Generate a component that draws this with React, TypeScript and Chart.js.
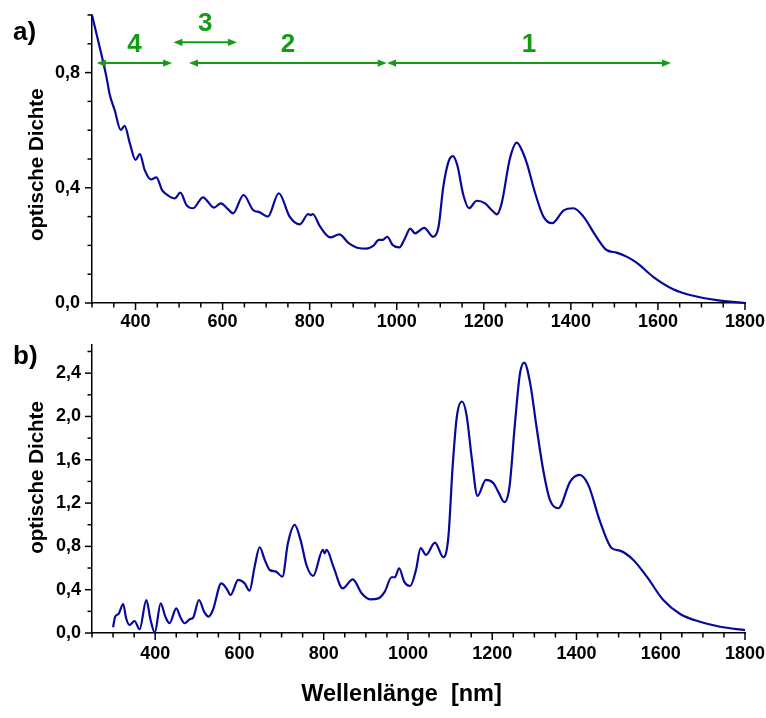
import React, { useEffect, useRef } from 'react';
import { Chart, registerables } from 'chart.js';

Chart.register(...registerables);

// ---------- data ----------
const topWavelengths = [
  300, 321, 333, 341, 352, 366, 375, 387, 400, 410, 421, 435, 448, 461, 475, 490, 503, 517, 532, 555,
  580, 596, 611, 624, 648, 670, 685, 704, 729, 754, 777, 797, 802, 807, 824, 847, 868, 889, 912, 931,
  946, 959, 968, 978, 991, 1006, 1019, 1031, 1042, 1063, 1084, 1096, 1107, 1119, 1129, 1139, 1153, 1166,
  1184, 1203, 1218, 1230, 1241, 1260, 1276, 1289, 1299, 1318, 1337, 1357, 1383, 1406, 1429, 1456, 1482,
  1505, 1528, 1551, 1589, 1635, 1681, 1735, 1800,
];
const topDensity = [
  1.0, 0.867, 0.786, 0.722, 0.67, 0.601, 0.615, 0.554, 0.497, 0.517, 0.462, 0.429, 0.436, 0.392, 0.373,
  0.363, 0.383, 0.34, 0.329, 0.367, 0.331, 0.346, 0.328, 0.311, 0.375, 0.323, 0.315, 0.3, 0.381, 0.3,
  0.273, 0.309, 0.305, 0.309, 0.265, 0.228, 0.238, 0.209, 0.191, 0.189, 0.198, 0.219, 0.219, 0.23, 0.201,
  0.193, 0.225, 0.258, 0.242, 0.261, 0.23, 0.265, 0.404, 0.491, 0.51, 0.479, 0.375, 0.329, 0.355, 0.346,
  0.323, 0.308, 0.346, 0.502, 0.557, 0.525, 0.485, 0.381, 0.3, 0.277, 0.321, 0.329, 0.3, 0.236, 0.184,
  0.175, 0.161, 0.14, 0.091, 0.048, 0.025, 0.01, 0.0,
];

const bottomWavelengths = [
  300, 305, 313, 324, 331, 339, 351, 363, 379, 389, 399, 413, 424, 434, 450, 461, 470, 482, 490, 504,
  516, 527, 537, 557, 569, 579, 597, 612, 624, 636, 648, 660, 672, 687, 702, 715, 731, 745, 759, 775,
  798, 802, 807, 823, 845, 869, 890, 910, 930, 945, 961, 969, 979, 991, 1005, 1019, 1030, 1043, 1064,
  1084, 1096, 1106, 1116, 1128, 1139, 1151, 1165, 1185, 1203, 1214, 1229, 1241, 1254, 1266, 1276, 1290,
  1305, 1321, 1337, 1357, 1385, 1407, 1428, 1456, 1484, 1503, 1535, 1567, 1606, 1646, 1693, 1741, 1800,
];
const bottomDensity = [
  0.053, 0.151, 0.176, 0.268, 0.136, 0.074, 0.111, 0.034, 0.305, 0.12, 0.003, 0.274, 0.151, 0.09, 0.228,
  0.136, 0.09, 0.127, 0.141, 0.305, 0.197, 0.151, 0.213, 0.459, 0.413, 0.351, 0.49, 0.459, 0.391, 0.613,
  0.792, 0.675, 0.582, 0.567, 0.52, 0.829, 0.998, 0.86, 0.628, 0.527, 0.767, 0.735, 0.767, 0.613, 0.413,
  0.496, 0.367, 0.311, 0.32, 0.382, 0.515, 0.515, 0.598, 0.474, 0.434, 0.582, 0.783, 0.721, 0.835, 0.7,
  0.89, 1.537, 1.999, 2.138, 2.015, 1.629, 1.266, 1.414, 1.383, 1.306, 1.208, 1.352, 1.938, 2.4, 2.498,
  2.308, 1.907, 1.506, 1.229, 1.152, 1.398, 1.46, 1.368, 1.029, 0.783, 0.761, 0.675, 0.52, 0.305, 0.176,
  0.104, 0.058, 0.027,
];

// spectral ranges marked in panel a)
const rangeLabels = ['4', '3', '2', '1'];
const rangeStart = [311, 487, 523, 978];
const rangeEnd = [484, 633, 977, 1630];
const rangeLevel = [0.833, 0.905, 0.833, 0.833];

const yTitle = 'optische Dichte';
const xTitle = 'Wellenlänge  [nm]';
const panelLabels = ['a)', 'b)'];

// ---------- styling ----------
const FONT = '"Liberation Sans", Arial, Helvetica, sans-serif';
const LINE_COLOR = 'rgb(8,8,155)';
const GREEN = 'rgb(22,155,22)';

const isMultiple = (v: number, step: number) => Math.abs(v / step - Math.round(v / step)) < 1e-6;

const decorPlugin = {
  id: 'decor',
  afterDraw(chart: any, _args: any, opts: any) {
    const ctx = chart.ctx as CanvasRenderingContext2D;
    const area = chart.chartArea;
    const xs = chart.scales.x;
    const ys = chart.scales.y;
    ctx.save();
    // tick marks (major / minor)
    ctx.strokeStyle = '#000';
    ctx.lineWidth = 1.5;
    xs.ticks.forEach((t: any) => {
      const v = t.value;
      if (!isMultiple(v, opts.xMinor)) return;
      const major = isMultiple(v, opts.xMajor);
      const px = xs.getPixelForValue(v);
      ctx.beginPath();
      ctx.moveTo(px, area.bottom);
      ctx.lineTo(px, area.bottom + (major ? 7 : 4.5));
      ctx.stroke();
    });
    ys.ticks.forEach((t: any) => {
      const v = t.value;
      if (!isMultiple(v, opts.yMinor)) return;
      const major = isMultiple(v, opts.yMajor);
      const py = ys.getPixelForValue(v);
      ctx.beginPath();
      ctx.moveTo(area.left, py);
      ctx.lineTo(area.left - (major ? 7 : 4.5), py);
      ctx.stroke();
    });

    // panel label
    ctx.fillStyle = '#000';
    ctx.font = `bold 26px ${FONT}`;
    ctx.textAlign = 'left';
    ctx.textBaseline = 'alphabetic';
    ctx.fillText(opts.panel, 13, opts.panelBaseline);

    // y title
    ctx.save();
    ctx.font = `bold 20.5px ${FONT}`;
    ctx.translate(37, area.top + (area.bottom - area.top) * opts.yTitleFrac);
    ctx.rotate(-Math.PI / 2);
    ctx.textAlign = 'center';
    ctx.textBaseline = 'middle';
    ctx.fillText(yTitle, 0, 0);
    ctx.restore();

    // x title
    if (opts.showXTitle) {
      ctx.font = `bold 23.5px ${FONT}`;
      ctx.textAlign = 'center';
      ctx.textBaseline = 'alphabetic';
      ctx.fillText(xTitle, area.left + (area.right - area.left) * 0.474, opts.xTitleBaseline);
    }

    // range arrows
    if (opts.showRanges) {
      ctx.strokeStyle = GREEN;
      ctx.fillStyle = GREEN;
      ctx.lineWidth = 2;
      const head = 9;
      const half = 3.6;
      rangeLabels.forEach((label, i) => {
        const x1 = xs.getPixelForValue(rangeStart[i]);
        const x2 = xs.getPixelForValue(rangeEnd[i]);
        const y = ys.getPixelForValue(rangeLevel[i]);
        ctx.beginPath();
        ctx.moveTo(x1 + head - 1, y);
        ctx.lineTo(x2 - head + 1, y);
        ctx.stroke();
        ctx.beginPath();
        ctx.moveTo(x1, y);
        ctx.lineTo(x1 + head, y - half);
        ctx.lineTo(x1 + head, y + half);
        ctx.closePath();
        ctx.fill();
        ctx.beginPath();
        ctx.moveTo(x2, y);
        ctx.lineTo(x2 - head, y - half);
        ctx.lineTo(x2 - head, y + half);
        ctx.closePath();
        ctx.fill();
        ctx.font = `bold 26px ${FONT}`;
        ctx.textAlign = 'center';
        ctx.textBaseline = 'alphabetic';
        ctx.fillText(label, (x1 + x2) / 2, y - 11);
      });
    }
    ctx.restore();
  },
};

function makeConfig(p: {
  xs: number[];
  ys: number[];
  xMin: number;
  yMax: number;
  yStep: number;
  padTop: number;
  xHeight: number;
  xPad: number;
  yPad: number;
  panel: string;
  panelBaseline: number;
  yTitleFrac: number;
  showRanges: boolean;
  showXTitle: boolean;
  xTitleBaseline: number;
}): any {
  const tickFont = { family: FONT, size: 18, weight: 'bold' as const };
  return {
    type: 'line',
    data: {
      datasets: [
        {
          data: p.xs.map((x, i) => ({ x, y: p.ys[i] })),
          borderColor: LINE_COLOR,
          borderWidth: 2.2,
          pointRadius: 0,
          cubicInterpolationMode: 'monotone',
          fill: false,
          clip: false,
        },
      ],
    },
    options: {
      animation: false,
      responsive: false,
      maintainAspectRatio: false,
      layout: { padding: { top: p.padTop, right: 21, left: 0, bottom: 0 } },
      plugins: {
        legend: { display: false },
        tooltip: { enabled: false },
        title: { display: false },
        decor: {
          xMinor: 50,
          xMajor: 200,
          yMinor: p.yStep,
          yMajor: 0.4,
          panel: p.panel,
          panelBaseline: p.panelBaseline,
          yTitleFrac: p.yTitleFrac,
          showRanges: p.showRanges,
          showXTitle: p.showXTitle,
          xTitleBaseline: p.xTitleBaseline,
        },
      },
      scales: {
        x: {
          type: 'linear',
          min: p.xMin,
          max: 1800,
          grid: { display: false, drawTicks: false, tickLength: 0 },
          border: { display: true, color: '#000', width: 1.5 },
          ticks: {
            stepSize: 50,
            autoSkip: false,
            maxRotation: 0,
            includeBounds: false,
            padding: p.xPad,
            color: '#000',
            font: tickFont,
            callback: (v: number) => (isMultiple(v, 200) ? String(v) : ''),
          },
          afterFit: (scale: any) => {
            scale.height = p.xHeight;
            scale.paddingLeft = 0;
            scale.paddingRight = 0;
            scale.paddingTop = 0;
            scale.paddingBottom = 0;
          },
        },
        y: {
          type: 'linear',
          min: 0,
          max: p.yMax,
          grid: { display: false, drawTicks: false, tickLength: 0 },
          border: { display: true, color: '#000', width: 1.5 },
          ticks: {
            stepSize: p.yStep,
            autoSkip: false,
            includeBounds: false,
            padding: p.yPad,
            color: '#000',
            font: tickFont,
            callback: (v: number) => (isMultiple(v, 0.4) ? v.toFixed(1).replace('.', ',') : ''),
          },
          afterFit: (scale: any) => {
            scale.width = 92;
            scale.paddingLeft = 0;
            scale.paddingRight = 0;
            scale.paddingTop = 0;
            scale.paddingBottom = 0;
          },
        },
      },
    },
    plugins: [decorPlugin],
  };
}

export default function App() {
  const topRef = useRef<HTMLCanvasElement | null>(null);
  const bottomRef = useRef<HTMLCanvasElement | null>(null);

  useEffect(() => {
    if (!topRef.current || !bottomRef.current) return;
    const top = new Chart(
      topRef.current,
      makeConfig({
        xs: topWavelengths,
        ys: topDensity,
        xMin: 300,
        yMax: 1.0,
        yStep: 0.1,
        padTop: 15,
        xHeight: 37,
        xPad: 8,
        yPad: 12,
        panel: panelLabels[0],
        panelBaseline: 40,
        yTitleFrac: 0.52,
        showRanges: true,
        showXTitle: false,
        xTitleBaseline: 0,
      })
    );
    const bottom = new Chart(
      bottomRef.current,
      makeConfig({
        xs: bottomWavelengths,
        ys: bottomDensity,
        xMin: 250,
        yMax: 2.66,
        yStep: 0.2,
        padTop: 5,
        xHeight: 85,
        xPad: 10,
        yPad: 11,
        panel: panelLabels[1],
        panelBaseline: 24,
        yTitleFrac: 0.46,
        showRanges: false,
        showXTitle: true,
        xTitleBaseline: 361,
      })
    );
    return () => {
      top.destroy();
      bottom.destroy();
    };
  }, []);

  return (
    <div style={{ position: 'absolute', left: 0, top: 0, width: 766, height: 718, background: '#fff' }}>
      <canvas ref={topRef} width={766} height={340} style={{ display: 'block', width: 766, height: 340 }} />
      <canvas ref={bottomRef} width={766} height={378} style={{ display: 'block', width: 766, height: 378 }} />
    </div>
  );
}
